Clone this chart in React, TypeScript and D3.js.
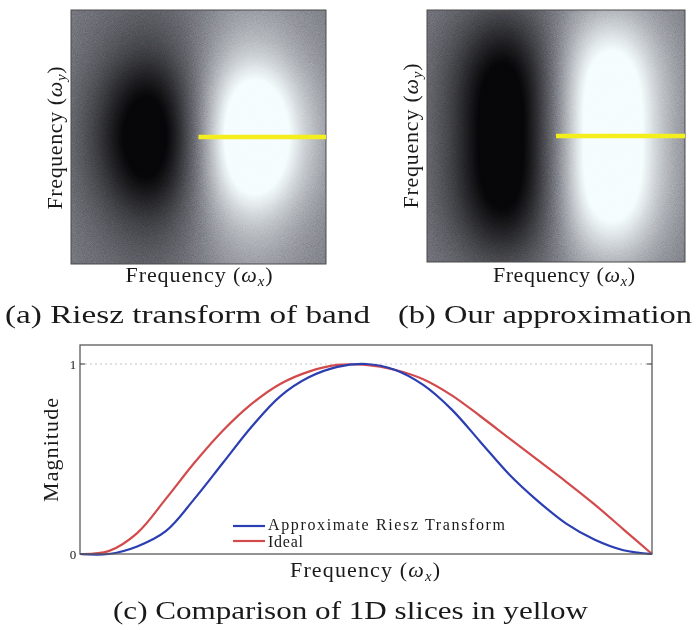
import React, { useMemo } from "react";
import * as d3 from "d3";

// 1D slice along the yellow line (band centre -> edge)
const freq = [0, 0.05, 0.1, 0.15, 0.2, 0.25, 0.3, 0.35, 0.4, 0.45, 0.5, 0.55, 0.6, 0.65, 0.7, 0.75, 0.8, 0.85, 0.9, 0.95, 1];
const approxRiesz = [0, 0.0, 0.04, 0.12, 0.29, 0.48, 0.67, 0.83, 0.93, 0.985, 1.0, 0.97, 0.89, 0.76, 0.59, 0.42, 0.28, 0.16, 0.075, 0.02, 0];
const ideal = [0, 0.015, 0.11, 0.29, 0.48, 0.65, 0.79, 0.895, 0.96, 0.995, 0.995, 0.97, 0.92, 0.835, 0.725, 0.61, 0.495, 0.38, 0.26, 0.13, 0];

const yTicks = [0, 1];

// grey-level profiles of the two spectra (columns left->right, rows top->bottom)
// signed around the mid grey: negative = dark lobe, positive = bright lobe
const bandCols = [-0.08, -0.24, -0.48, -0.62, -0.44, 0.0, 0.5, 0.74, 0.64, 0.34, 0.15];
const bandRows = [0.2, 0.32, 0.52, 0.8, 1.0, 1.1, 1.0, 0.8, 0.52, 0.32, 0.2];
const approxCols = [-0.08, -0.24, -0.5, -0.64, -0.44, 0.0, 0.5, 0.72, 0.6, 0.28, 0.1];
const approxRows = [0.35, 0.6, 0.85, 1.0, 1.05, 1.05, 1.05, 1.0, 0.85, 0.6, 0.35];

// where the yellow slice sits in each panel (fraction of the panel)
const sliceStart = 0.5;
const sliceRow = 0.5;

const W = 697;
const H = 630;

const shade = d3
  .scaleLinear<string>()
  .domain([-0.5, 0, 0.5])
  .range(["#060608", "#7a7b83", "#f6fdff"])
  .clamp(true);

function panelImage(cols: number[], rows: number[], w: number, h: number) {
  const canvas = document.createElement("canvas");
  canvas.width = w;
  canvas.height = h;
  const ctx = canvas.getContext("2d");
  if (!ctx) return "";
  const img = ctx.createImageData(w, h);
  const colAt = d3.interpolateBasis(cols);
  const rowAt = d3.interpolateBasis(rows);
  // lookup table for the colour ramp
  const lut = d3.range(256).map((i) => d3.rgb(shade(i / 255 - 0.5)));
  for (let y = 0; y < h; y++) {
    const r = rowAt(y / (h - 1));
    for (let x = 0; x < w; x++) {
      const v = colAt(x / (w - 1)) * r;
      const k = Math.max(0, Math.min(255, Math.round((v + 0.5) * 255)));
      const c = lut[k];
      const o = (y * w + x) * 4;
      img.data[o] = c.r;
      img.data[o + 1] = c.g;
      img.data[o + 2] = c.b;
      img.data[o + 3] = 255;
    }
  }
  ctx.putImageData(img, 0, 0);
  return canvas.toDataURL();
}

function FreqLabel({ sub, ...rest }: any) {
  return (
    <text {...rest}>
      Frequency (<tspan fontStyle="italic">ω</tspan>
      <tspan fontStyle="italic" fontSize="0.68em" dy={4}>{sub}</tspan>
      <tspan dy={-4}>)</tspan>
    </text>
  );
}

function Panel({ x0, y0, w, h, cols, rows }: any) {
  const href = useMemo(() => panelImage(cols, rows, w, h), [cols, rows, w, h]);
  const px = d3.scaleLinear().domain([0, 1]).range([x0, x0 + w]);
  const py = d3.scaleLinear().domain([0, 1]).range([y0, y0 + h]);
  return (
    <g>
      <image href={href} x={x0} y={y0} width={w} height={h} preserveAspectRatio="none" />
      <rect
        x={x0}
        y={y0}
        width={w}
        height={h}
        fill="#808080"
        filter="url(#grain)"
        opacity={0.3}
        style={{ mixBlendMode: "overlay" }}
      />
      <rect x={x0} y={y0} width={w} height={h} fill="none" stroke="#4a4a4a" strokeWidth={1} />
      <line
        x1={px(sliceStart)}
        x2={px(1)}
        y1={py(sliceRow)}
        y2={py(sliceRow)}
        stroke="#f4ef1c"
        strokeWidth={4.5}
      />
    </g>
  );
}

export default function App() {
  const x = d3.scaleLinear().domain([0, 1]).range([80, 652]);
  const y = d3.scaleLinear().domain([0, 1.1]).range([554, 345]);

  const line = d3
    .line<number>()
    .x((_, i) => x(freq[i]))
    .y((d) => y(d))
    .curve(d3.curveCatmullRom.alpha(0.5));

  return (
    <svg
      width={W}
      height={H}
      style={{ position: "absolute", left: 0, top: 0, background: "#fff" }}
      fontFamily="'Liberation Serif', 'Times New Roman', serif"
      fill="#1a1a1a"
    >
      <defs>
        <filter id="grain" x="0" y="0" width="100%" height="100%" colorInterpolationFilters="sRGB">
          <feTurbulence type="fractalNoise" baseFrequency="1.1" numOctaves={2} seed={4} result="n" />
          <feColorMatrix
            in="n"
            type="matrix"
            values="0.33 0.33 0.33 0 0  0.33 0.33 0.33 0 0  0.33 0.33 0.33 0 0  0 0 0 0 1"
          />
        </filter>
      </defs>

      {/* (a) Riesz transform of band */}
      <Panel x0={71} y0={10} w={255} h={254} cols={bandCols} rows={bandRows} />
      <FreqLabel sub="y" transform="translate(62,138) rotate(-90)" textAnchor="middle" fontSize={22} textLength={143} />
      <FreqLabel sub="x" x={199} y={282} textAnchor="middle" fontSize={22} textLength={147} />
      <text x={5} y={323} fontSize={26} textLength={365} lengthAdjust="spacingAndGlyphs">
        (a) Riesz transform of band
      </text>

      {/* (b) Our approximation */}
      <Panel x0={427} y0={10} w={258} h={252} cols={approxCols} rows={approxRows} />
      <FreqLabel sub="y" transform="translate(418,136) rotate(-90)" textAnchor="middle" fontSize={22} textLength={145} />
      <FreqLabel sub="x" x={564} y={282} textAnchor="middle" fontSize={22} textLength={142} />
      <text x={398} y={323} fontSize={26} textLength={294} lengthAdjust="spacingAndGlyphs">
        (b) Our approximation
      </text>

      {/* (c) 1D slices */}
      <line x1={x(0)} x2={x(1)} y1={y(1)} y2={y(1)} stroke="#c4c4c4" strokeWidth={1} strokeDasharray="2,3" />
      {yTicks.map((t) => (
        <g key={t}>
          <line x1={x(0)} x2={x(0) + 5} y1={y(t)} y2={y(t)} stroke="#555" strokeWidth={1.2} />
          <line x1={x(1) - 5} x2={x(1)} y1={y(t)} y2={y(t)} stroke="#555" strokeWidth={1.2} />
          <text x={73} y={y(t) + 4.5} fontSize={13} textAnchor="middle">
            {t}
          </text>
        </g>
      ))}
      <path d={line(ideal) || ""} fill="none" stroke="#d24a4c" strokeWidth={2.2} />
      <path d={line(approxRiesz) || ""} fill="none" stroke="#2b3eb2" strokeWidth={2.2} />
      <rect x={x(0)} y={y(1.1)} width={x(1) - x(0)} height={y(0) - y(1.1)} fill="none" stroke="#5a5a5a" strokeWidth={1.3} />

      {/* legend */}
      <line x1={233} x2={265} y1={526} y2={526} stroke="#2b3eb2" strokeWidth={2.2} />
      <line x1={233} x2={265} y1={541} y2={541} stroke="#d24a4c" strokeWidth={2.2} />
      <text x={268} y={530} fontSize={16} textLength={237} lengthAdjust="spacing">
        Approximate Riesz Transform
      </text>
      <text x={268} y={547} fontSize={16} textLength={35} lengthAdjust="spacing">
        Ideal
      </text>

      <text transform="translate(58,450) rotate(-90)" textAnchor="middle" fontSize={22} textLength={104}>
        Magnitude
      </text>
      <FreqLabel sub="x" x={365} y={577} textAnchor="middle" fontSize={22} textLength={150} />
      <text x={113} y={619} fontSize={25} textLength={475} lengthAdjust="spacingAndGlyphs">
        (c) Comparison of 1D slices in yellow
      </text>
    </svg>
  );
}
